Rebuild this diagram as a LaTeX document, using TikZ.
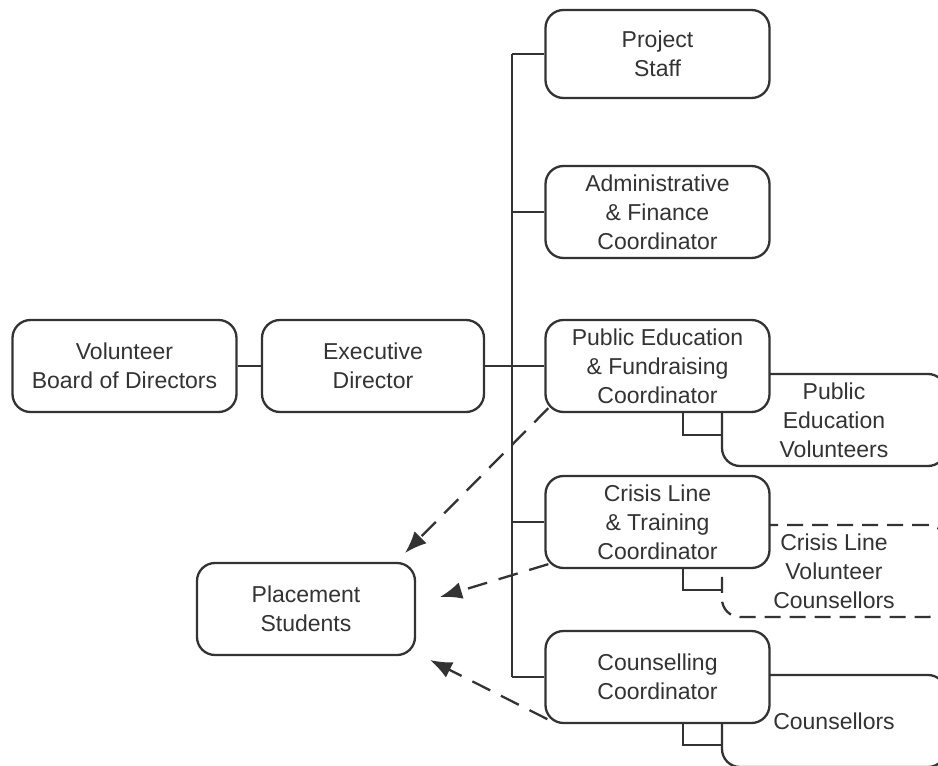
\documentclass[tikz,border=0pt]{standalone}
\usepackage{fontspec}
\setmainfont{Liberation Sans}
\usetikzlibrary{arrows.meta}
\definecolor{ink}{HTML}{333333}
\begin{document}
\begin{tikzpicture}[x=1pt,y=-1pt,>={Latex[length=22pt,width=17pt]},
    box/.style={draw=ink,line width=2.3pt,rounded corners=18pt,fill=white,align=center,text=ink,
      minimum width=224pt,minimum height=92pt,inner sep=0pt,font=\fontsize{23}{29}\selectfont},
    subbox/.style={box,minimum width=224pt},
    link/.style={ink,line width=2.3pt},
    dashlink/.style={link,dash pattern=on 20pt off 12pt}]
\useasboundingbox (0,0) rectangle (938,766);
\clip (0,0) rectangle (938,766);
% helpers behind the coordinators
\node[subbox] (pubvol) at (834,420) {Public\\Education\\Volunteers};
\node[subbox,dash pattern=on 16pt off 9pt] (crisisvol) at (834,571) {Crisis Line\\Volunteer\\Counsellors};
\node[subbox] (counsvol) at (834,721) {Counsellors};
\node[box] (board) at (124.5,366) {Volunteer\\Board of Directors};
\node[box,minimum width=222pt] (exec) at (373,366) {Executive\\Director};
\node[box,minimum height=88pt] (staff) at (657.5,54) {Project\\Staff};
\node[box] (admin) at (657.5,212) {Administrative\\\& Finance\\Coordinator};
\node[box] (pubed) at (657.5,366) {Public Education\\\& Fundraising\\Coordinator};
\node[box] (crisis) at (657.5,522) {Crisis Line\\\& Training\\Coordinator};
\node[box] (couns) at (657.5,677) {Counselling\\Coordinator};
\node[box,minimum width=218pt] (place) at (306,609) {Placement\\Students};
% trunk
\coordinate (ttop) at (512,54);
\coordinate (tbot) at (512,677);
\draw[link] (ttop)--(tbot);
\foreach \n in {staff,admin,crisis,couns}
  \draw[link] (\n.west -| ttop)--(\n.west);
\draw[link] (board)--(exec);
\draw[link] (exec)--(pubed);
\draw[link] ([xshift=25.5pt]pubed.south) |- ([yshift=-15pt]pubvol.west);
\draw[link] ([xshift=25.5pt]crisis.south) |- ([yshift=-19pt]crisisvol.west);
\draw[link] ([xshift=25.5pt]couns.south) |- ([yshift=-24pt]counsvol.west);
% students
\coordinate (p1) at (405,553);
\coordinate (p2) at (440,597);
\coordinate (p3) at (430,660);
\draw[dashlink,->] ([shift={(4pt,5pt)}]pubed.south west)--(p1);
\draw[dashlink,->] ([shift={(4pt,5pt)}]crisis.south west)--(p2);
\draw[dashlink,->] ([shift={(3pt,5pt)}]couns.south west)--(p3);
\end{tikzpicture}
\end{document}
